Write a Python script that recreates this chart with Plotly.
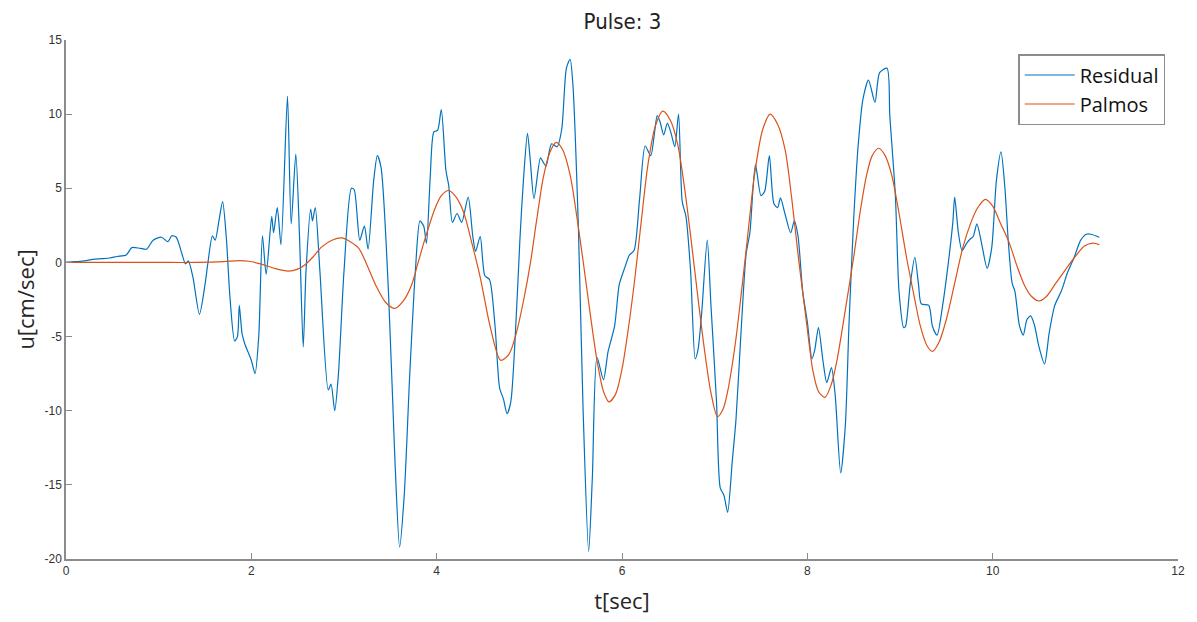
import plotly.graph_objects as go

# Residual series (t [sec], u [cm/sec])
res_t = [0, 0.1, 0.2, 0.29, 0.38, 0.47, 0.55, 0.65, 0.71, 0.8, 0.87, 0.94, 1.03, 1.10, 1.14, 1.19,
         1.25, 1.29, 1.32, 1.37, 1.44, 1.50, 1.53, 1.58, 1.61, 1.65, 1.69, 1.73, 1.77, 1.82, 1.85,
         1.87, 1.90, 1.93, 2.00, 2.04, 2.08, 2.12, 2.16, 2.22, 2.24, 2.28, 2.32, 2.39, 2.43, 2.48,
         2.52, 2.56, 2.59, 2.64, 2.66, 2.69, 2.74, 2.83, 2.86, 2.90, 2.94, 3.00, 3.08, 3.11, 3.17,
         3.22, 3.26, 3.32, 3.36, 3.40, 3.48, 3.55, 3.60, 3.65, 3.71, 3.77, 3.82, 3.86, 3.89, 3.93,
         3.97, 4.01, 4.05, 4.10, 4.13, 4.17, 4.22, 4.27, 4.34, 4.39, 4.42, 4.47, 4.52, 4.57, 4.63,
         4.68, 4.72, 4.76, 4.80, 4.85, 4.90, 4.94, 4.98, 5.01, 5.05, 5.12, 5.15, 5.18, 5.24, 5.30,
         5.35, 5.40, 5.44, 5.47, 5.53, 5.58, 5.64, 5.68, 5.73, 5.80, 5.85, 5.92, 5.97, 6.03, 6.08,
         6.13, 6.19, 6.25, 6.31, 6.35, 6.38, 6.41, 6.45, 6.49, 6.53, 6.57, 6.61, 6.65, 6.69, 6.74,
         6.79, 6.82, 6.86, 6.92, 6.96, 7.02, 7.06, 7.10, 7.14, 7.19, 7.23, 7.28, 7.34, 7.38, 7.44,
         7.50, 7.54, 7.59, 7.64, 7.68, 7.71, 7.76, 7.82, 7.86, 7.90, 7.95, 8.00, 8.05, 8.08, 8.12,
         8.17, 8.21, 8.26, 8.30, 8.36, 8.41, 8.45, 8.50, 8.55, 8.60, 8.66, 8.73, 8.78, 8.86, 8.89,
         8.95, 8.99, 9.04, 9.06, 9.11, 9.16, 9.20, 9.23, 9.31, 9.35, 9.40, 9.46, 9.52, 9.57, 9.59,
         9.63, 9.67, 9.72, 9.76, 9.79, 9.83, 9.88, 9.94, 9.99, 10.04, 10.09, 10.13, 10.17, 10.21,
         10.24, 10.29, 10.33, 10.37, 10.41, 10.45, 10.50, 10.56, 10.61, 10.67, 10.74, 10.81, 10.88,
         10.95, 11.01, 11.06, 11.15]
res_u = [0, 0.05, 0.1, 0.2, 0.25, 0.3, 0.4, 0.5, 1.0, 0.95, 0.9, 1.5, 1.7, 1.4, 1.8, 1.7,
         0.6, -0.1, 0.1, -1.0, -3.5, -1.5, -0.1, 1.8, 1.5, 2.8, 4.1, 1.7, -2.4, -5.3, -5.0,
         -2.9, -4.8, -5.5, -6.6, -7.5, -5.0, 1.8, -0.8, 3.1, 2.0, 3.7, 1.2, 11.2, 2.6, 7.3,
         1.75, -5.7, -0.6, 3.6, 2.8, 3.7, -0.6, -8.6, -8.2, -10.0, -7.5, -0.6, 5.0, 4.9, 1.5,
         2.45, 0.9, 5.5, 7.2, 6.4, -2.0, -13.4, -19.2, -15.7, -7.5, -0.6, 2.8, 2.45, 1.3, 5.7,
         8.8, 8.9, 10.3, 6.2, 5.2, 2.7, 3.3, 2.7, 4.4, 1.75, 0.75, 1.75, -0.9, -1.15, -4.3,
         -8.5, -9.2, -10.2, -9.4, -4.75, 1.75, 5.9, 8.7, 6.9, 4.3, 7.05, 6.75, 6.5, 8.0, 7.8,
         9.0, 13.1, 13.7, 12.0, 2.2, -9.9, -19.5, -14.5, -6.4, -7.9, -6.0, -4.3, -1.5, -0.35, 0.5,
         0.8, 4.3, 7.85, 7.2, 8.7, 9.9, 9.5, 8.6, 9.4, 8.7, 7.8, 10.0, 4.1, 3.1, -0.55,
         -6.5, -5.9, -3.4, 1.5, -2.9, -9.4, -15.2, -15.7, -16.85, -13.4, -10.6, -5.2, 0.6, 2.0, 6.6,
         4.5, 4.8, 7.2, 3.95, 3.7, 4.35, 3.25, 2.0, 2.8, 1.75, -1.95, -4.0, -6.5, -5.9, -4.4,
         -6.7, -8.1, -7.1, -8.9, -14.2, -11.0, -4.1, 2.9, 8.0, 11.0, 12.3, 10.8, 12.8, 13.1, 9.9,
         4.5, -2.0, -4.4, -4.3, -1.5, 0.35, -1.5, -2.8, -2.9, -4.3, -4.9, -2.9, -0.1, 2.7, 4.4,
         2.0, 0.8, 1.3, 1.6, 1.75, 2.6, 1.3, -0.4, 1.0, 5.5, 7.45, 5.2, 1.3, -1.4,
         -1.95, -4.3, -4.9, -3.85, -3.6, -4.2, -5.7, -6.85, -4.75, -2.9, -1.95, -0.65, 0.35,
         1.5, 1.9, 1.9, 1.7]

# Palmos pulse series
pal_t = [0, 0.5, 1.0, 1.4, 1.7, 1.87, 1.97, 2.1, 2.25, 2.40, 2.50, 2.58, 2.67, 2.76, 2.87, 2.98,
         3.08, 3.16, 3.25, 3.34, 3.45, 3.55, 3.64, 3.73, 3.80, 3.87, 3.98, 4.05, 4.13, 4.21, 4.29,
         4.38, 4.47, 4.58, 4.69, 4.78, 4.86, 4.94, 5.01, 5.08, 5.15, 5.22, 5.29, 5.36, 5.44, 5.51,
         5.58, 5.66, 5.73, 5.80, 5.86, 5.93, 6.00, 6.07, 6.14, 6.21, 6.28, 6.36, 6.44, 6.52, 6.60,
         6.68, 6.75, 6.82, 6.89, 6.96, 7.03, 7.09, 7.14, 7.22, 7.29, 7.36, 7.43, 7.52, 7.60, 7.68,
         7.76, 7.83, 7.91, 7.99, 8.06, 8.12, 8.19, 8.26, 8.32, 8.41, 8.50, 8.57, 8.64, 8.70, 8.77,
         8.84, 8.91, 8.99, 9.07, 9.15, 9.22, 9.29, 9.35, 9.42, 9.50, 9.59, 9.68, 9.76, 9.83, 9.92,
         10.00, 10.08, 10.18, 10.26, 10.34, 10.42, 10.50, 10.58, 10.67, 10.75, 10.83, 10.91, 10.99,
         11.08, 11.15]
pal_u = [0, 0, 0, 0, 0.05, 0.12, 0.08, -0.1, -0.4, -0.58, -0.45, -0.15, 0.4, 1.05, 1.5, 1.65,
         1.35, 0.95, -0.2, -1.5, -2.7, -3.1, -2.6, -1.5, 0.0, 1.5, 3.6, 4.5, 4.85, 4.4, 3.4,
         1.3, -1.0, -4.4, -6.6, -6.2, -4.75, -2.5, -0.1, 2.9, 5.7, 7.4, 8.1, 7.6, 5.9, 3.2,
         0.1, -3.6, -6.6, -8.7, -9.4, -8.9, -7.2, -4.4, -1.0, 2.9, 6.6, 9.2, 10.2, 9.6, 8.0,
         4.8, 1.3, -2.4, -5.9, -8.8, -10.4, -9.9, -8.7, -5.6, -1.95, 2.0, 5.9, 9.0, 10.0, 9.3,
         7.6, 4.4, 0.0, -4.0, -7.3, -8.7, -9.1, -8.2, -6.6, -3.2, 0.35, 3.4, 5.9, 7.2, 7.7,
         7.2, 5.9, 3.3, 0.35, -2.2, -4.3, -5.6, -6.0, -5.4, -3.85, -1.4, 1.05, 2.6, 3.6, 4.25,
         3.8, 2.7, 1.3, -0.2, -1.5, -2.3, -2.6, -2.3, -1.5, -0.8, -0.1, 0.55, 1.1,
         1.3, 1.2]

x_ticks = [0, 2, 4, 6, 8, 10, 12]
y_ticks = [-20, -15, -10, -5, 0, 5, 10, 15]

fig = go.Figure()
fig.add_trace(go.Scatter(x=res_t, y=res_u, mode="lines", name="Residual",
                         line=dict(color="#0072BD", width=1.2, shape="spline", smoothing=0.7)))
fig.add_trace(go.Scatter(x=pal_t, y=pal_u, mode="lines", name="Palmos",
                         line=dict(color="#D95319", width=1.2, shape="spline", smoothing=0.8)))

axis_common = dict(showgrid=False, zeroline=False, showline=True, linecolor="#8c8c8c",
                   linewidth=1.5, ticks="inside", ticklen=6, tickcolor="#8c8c8c", tickwidth=1,
                   tickfont=dict(family="Liberation Sans, Arial", size=12, color="#333333"),
                   mirror=False)

fig.update_layout(
    width=1197, height=622,
    margin=dict(l=66, r=19, t=40, b=63),
    paper_bgcolor="white", plot_bgcolor="white",
    title=dict(text="Pulse: 3", x=0.52, xanchor="center", y=0.965, yanchor="middle",
               font=dict(family="DejaVu Sans Condensed, DejaVu Sans", size=22, color="#222222")),
    xaxis=dict(range=[0, 12], tickvals=x_ticks, ticktext=[str(v) for v in x_ticks],
               title=dict(text="t[sec]", standoff=16,
                          font=dict(family="Open Sans, Noto Sans", size=22, color="#262626")),
               **axis_common),
    yaxis=dict(range=[-20, 15], tickvals=y_ticks, ticktext=[str(v) for v in y_ticks],
               title=dict(text="u[cm/sec]", standoff=4,
                          font=dict(family="Open Sans, Noto Sans", size=22, color="#262626")),
               **axis_common),
    legend=dict(x=0.9885, xanchor="right", y=0.973, yanchor="top",
                bgcolor="white", bordercolor="#8c8c8c", borderwidth=1.5,
                font=dict(family="Open Sans, Noto Sans", size=20, color="#111111"),
                tracegroupgap=0, itemwidth=50),
    showlegend=True,
)

fig.write_html("out.html")
